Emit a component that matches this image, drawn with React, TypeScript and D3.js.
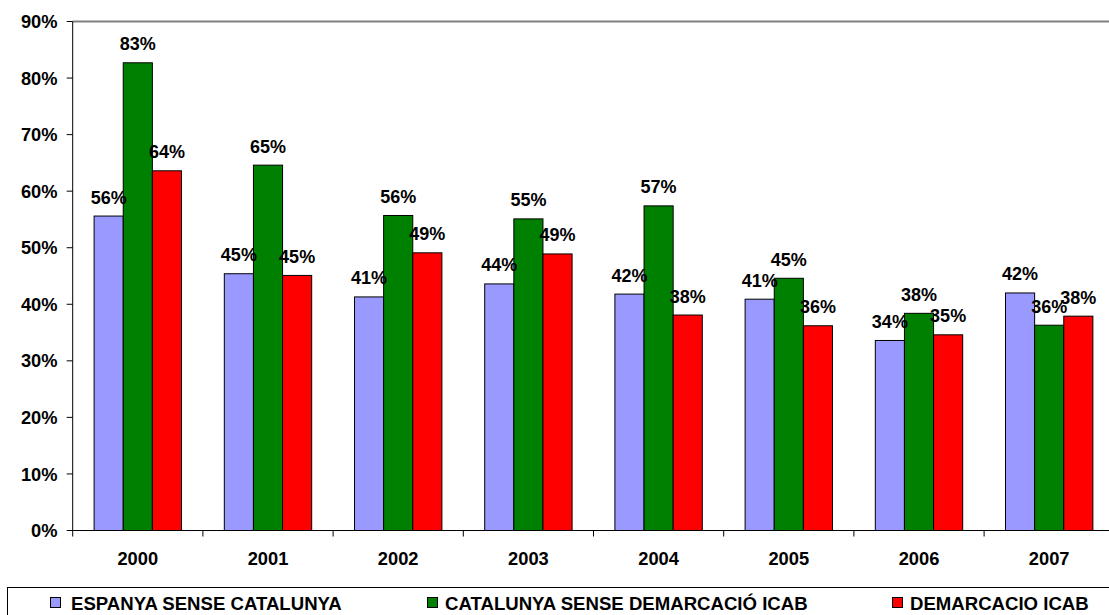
import * as d3 from 'd3';

const YEARS = ['2000', '2001', '2002', '2003', '2004', '2005', '2006', '2007'];
const SERIES = ['ESPANYA SENSE CATALUNYA', 'CATALUNYA SENSE DEMARCACIÓ ICAB', 'DEMARCACIO ICAB'];
const ESPANYA = [55.6, 45.4, 41.3, 43.6, 41.8, 40.9, 33.6, 42.0];
const CATALUNYA = [82.7, 64.6, 55.7, 55.1, 57.4, 44.6, 38.4, 36.3];
const ICAB = [63.6, 45.1, 49.1, 48.9, 38.1, 36.2, 34.6, 37.9];
const Y_TICKS = [0, 10, 20, 30, 40, 50, 60, 70, 80, 90];

const W = 1109;
const H = 615;
const COLORS = ['#9999ff', '#008000', '#ff0000'];
const FONT = '"Liberation Sans", Arial, sans-serif';
const LEGEND_X = [50, 427, 892];

export default function App() {
  const values = [ESPANYA, CATALUNYA, ICAB];

  const x0 = d3.scaleBand<string>().domain(YEARS).range([72.7, 72.7 + 8 * 130.2]).padding(0);
  const x1 = d3
    .scaleBand<number>()
    .domain([0, 1, 2])
    .range([0, x0.bandwidth()])
    .paddingInner(0)
    .paddingOuter(0.735);
  const y = d3.scaleLinear().domain([0, 90]).range([530.5, 21.5]);

  const left = x0.range()[0];
  const bottom = y(0);

  return (
    <svg
      width={W}
      height={H}
      style={{ position: 'absolute', left: 0, top: 0, display: 'block', background: '#fff' }}
      fontFamily={FONT}
      fontWeight="bold"
    >
      {/* plot top border */}
      <line x1={left} x2={W + 10} y1={y(90)} y2={y(90)} stroke="#808080" strokeWidth={2} />

      {/* bars */}
      {YEARS.map((yr, i) => (
        <g key={yr} transform={`translate(${x0(yr)},0)`}>
          {values.map((vals, s) => (
            <rect
              key={s}
              x={x1(s)}
              y={y(vals[i])}
              width={x1.bandwidth()}
              height={bottom - y(vals[i])}
              fill={COLORS[s]}
              stroke="#000"
              strokeWidth={1}
            />
          ))}
        </g>
      ))}

      {/* value labels */}
      {YEARS.map((yr, i) =>
        values.map((vals, s) => (
          <text
            key={`${yr}-${s}`}
            x={(x0(yr) ?? 0) + (x1(s) ?? 0) + x1.bandwidth() / 2}
            y={y(vals[i]) - 12.5}
            textAnchor="middle"
            fontSize={18}
            fill="#000"
          >
            {Math.round(vals[i])}%
          </text>
        )),
      )}

      {/* y axis */}
      <line x1={left} x2={left} y1={y(90)} y2={bottom} stroke="#000" strokeWidth={1} />
      {Y_TICKS.map((t) => (
        <g key={t}>
          <line x1={left - 6} x2={left} y1={y(t)} y2={y(t)} stroke="#000" />
          <text x={57.5} y={y(t)} dy="0.36em" textAnchor="end" fontSize={18.3} fill="#000">
            {t}%
          </text>
        </g>
      ))}

      {/* x axis */}
      <line x1={left} x2={W + 10} y1={bottom} y2={bottom} stroke="#000" strokeWidth={1} />
      {YEARS.map((yr) => (
        <line
          key={`t${yr}`}
          x1={x0(yr)}
          x2={x0(yr)}
          y1={bottom}
          y2={bottom + 6}
          stroke="#000"
        />
      ))}
      {YEARS.map((yr) => (
        <text
          key={`l${yr}`}
          x={(x0(yr) ?? 0) + x0.bandwidth() / 2}
          y={565}
          textAnchor="middle"
          fontSize={18.3}
          fill="#000"
        >
          {yr}
        </text>
      ))}

      {/* legend */}
      <rect x={7.5} y={587.5} width={W + 20} height={60} fill="#fff" stroke="#000" strokeWidth={1} />
      {SERIES.map((name, s) => (
        <g key={name} transform={`translate(${LEGEND_X[s]},597)`}>
          <rect x={0.5} y={0.5} width={10} height={10} fill={COLORS[s]} stroke="#000" strokeWidth={1} />
          <text x={s === 0 ? 21 : 18} y={13} fontSize={18.6} fill="#000">
            {name}
          </text>
        </g>
      ))}
    </svg>
  );
}
